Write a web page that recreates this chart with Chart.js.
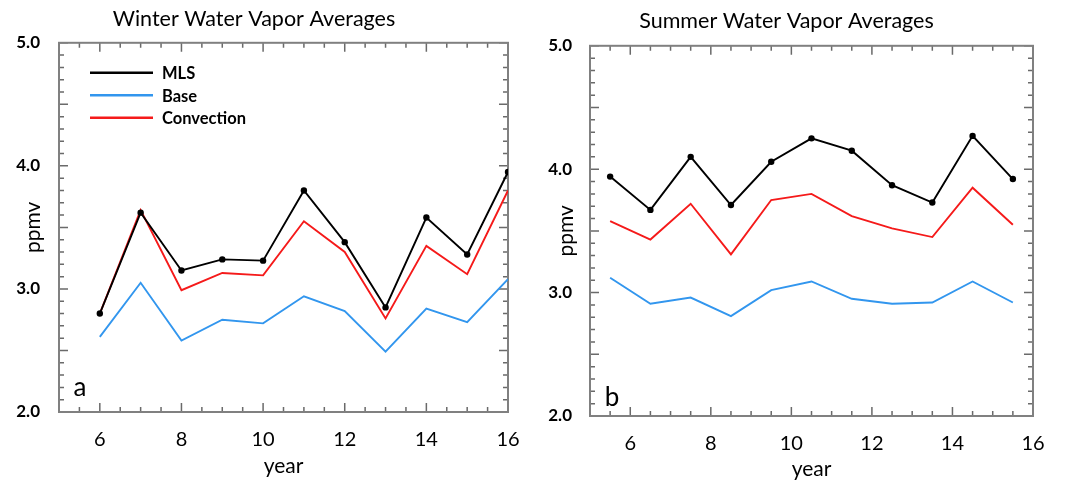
<!DOCTYPE html>
<html><head><meta charset="utf-8">
<script src="https://cdn.jsdelivr.net/npm/chart.js@4"></script>
<style>
body{margin:0;background:#fff;width:1083px;height:482px;overflow:hidden;position:relative}
.p{position:absolute;top:0;height:482px}
</style></head><body>
<div class="p" style="left:0;width:540px"><canvas id="c1"></canvas></div>
<div class="p" style="left:540px;width:543px"><canvas id="c2"></canvas></div>
<script>
// ---- data ----
const winterYears = [6,7,8,9,10,11,12,13,14,15,16];
const winterMLS = [2.80,3.62,3.15,3.24,3.23,3.80,3.38,2.85,3.58,3.28,3.95];
const winterBase = [2.61,3.05,2.58,2.75,2.72,2.94,2.82,2.49,2.84,2.73,3.08];
const winterConvection = [2.80,3.64,2.99,3.13,3.11,3.55,3.30,2.76,3.35,3.12,3.80];

const summerYears = [5.5,6.5,7.5,8.5,9.5,10.5,11.5,12.5,13.5,14.5,15.5];
const summerMLS = [3.94,3.67,4.10,3.71,4.06,4.25,4.15,3.87,3.73,4.27,3.92];
const summerBase = [3.12,2.91,2.96,2.81,3.02,3.09,2.95,2.91,2.92,3.09,2.92];
const summerConvection = [3.58,3.43,3.72,3.31,3.75,3.80,3.62,3.52,3.45,3.85,3.55];

const seriesNames = ['MLS','Base','Convection'];
const xTickValues = [6,8,10,12,14,16];
const yTickValues = [2,3,4,5];
const yTickLabels = ['2.0','3.0','4.0','5.0'];

const COLORS = {MLS:'#000000', Base:'#3296ee', Convection:'#f51a1a'};
const FONT = 'Lato, "Open Sans", sans-serif';

function pts(xs, ys){ return xs.map((x,i)=>({x:x, y:ys[i]})); }

const framePlugin = {
  id:'frame',
  beforeDatasetsDraw(chart){
    const {ctx, chartArea:a, scales} = chart;
    const xs = scales.x, ys = scales.y;
    ctx.save();
    ctx.strokeStyle = '#6a6a6a';
    ctx.lineWidth = 1.5;
    for (let k = 20; k <= 50; k++) {
      const v = k/10;
      const y = ys.getPixelForValue(v);
      const len = (k % 5 === 0) ? 9 : 5;
      ctx.beginPath();
      ctx.moveTo(a.left, y); ctx.lineTo(a.left+len, y);
      ctx.moveTo(a.right, y); ctx.lineTo(a.right-len, y);
      ctx.stroke();
    }
    for (let k = 10; k <= 32; k++) {
      const v = k/2;
      const x = xs.getPixelForValue(v);
      const len = (k % 4 === 0) ? 9 : 5;
      ctx.beginPath();
      ctx.moveTo(x, a.bottom); ctx.lineTo(x, a.bottom-len);
      ctx.moveTo(x, a.top); ctx.lineTo(x, a.top+len);
      ctx.stroke();
    }
    ctx.strokeStyle = '#808080';
    ctx.lineWidth = 2;
    ctx.strokeRect(a.left, a.top, a.right-a.left, a.bottom-a.top);
    ctx.restore();
  },
  afterDraw(chart, args, opts){
    const {ctx, chartArea:a} = chart;
    ctx.save();
    ctx.fillStyle = '#000';
    ctx.font = '26px ' + FONT;
    ctx.textAlign = 'center';
    ctx.textBaseline = 'middle';
    ctx.fillText(opts.letter, a.left + opts.letterDx, a.bottom - opts.letterDy);
    if (opts.legend) {
      ctx.textAlign = 'left';
      ctx.font = 'bold 16.5px ' + FONT;
      chart.data.datasets.forEach((ds, i) => {
        const y = a.top + 30 + i*22.5;
        ctx.strokeStyle = ds.borderColor;
        ctx.lineWidth = 2.5;
        ctx.beginPath();
        ctx.moveTo(a.left + 31, y); ctx.lineTo(a.left + 94, y);
        ctx.stroke();
        ctx.fillStyle = '#000';
        ctx.fillText(ds.label, a.left + 103, y + 1);
      });
    }
    ctx.restore();
  }
};

function makeChart(id, o){
  const ds = [
    {label:seriesNames[0], data:pts(o.years,o.mls), borderColor:COLORS.MLS, backgroundColor:COLORS.MLS, borderWidth:1.9, pointRadius:3.2, pointBackgroundColor:'#000', pointBorderWidth:0, order:0},
    {label:seriesNames[1], data:pts(o.years,o.base), borderColor:COLORS.Base, borderWidth:1.9, pointRadius:0, order:2},
    {label:seriesNames[2], data:pts(o.years,o.conv), borderColor:COLORS.Convection, borderWidth:1.9, pointRadius:0, order:1}
  ];
  return new Chart(document.getElementById(id), {
    type:'line',
    data:{datasets:ds},
    plugins:[framePlugin],
    options:{
      responsive:true, maintainAspectRatio:false, animation:false, devicePixelRatio:1,
      layout:{padding:{left:0, right:o.padRight, top:0, bottom:0}},
      plugins:{
        legend:{display:false}, tooltip:{enabled:false},
        title:{display:true, text:o.title, color:'#000', font:{family:FONT, size:21.5, weight:'normal'}, padding:{top:o.titleTop, bottom:o.titleBottom}},
        frame:{letter:o.letter, letterDx:o.letterDx, letterDy:o.letterDy, legend:o.legend}
      },
      scales:{
        x:{type:'linear', min:5, max:16,
          afterBuildTicks(s){ s.ticks = xTickValues.map(v=>({value:v})); },
          afterFit(s){ s.height = o.xAxisH; },
          grid:{display:false, drawTicks:false}, border:{display:false},
          ticks:{color:'#000', padding:o.xTickPad, font:{family:FONT, size:20}, maxRotation:0, autoSkip:false, callback:(v)=>String(v)},
          title:{display:true, text:'year', color:'#000', font:{family:FONT, size:21}, padding:{top:0, bottom:o.xTitleBottom}}
        },
        y:{type:'linear', min:2, max:5,
          afterBuildTicks(s){ s.ticks = yTickValues.map(v=>({value:v})); },
          afterFit(s){ s.width = o.yAxisW; },
          grid:{display:false, drawTicks:false}, border:{display:false},
          ticks:{color:'#000', padding:o.yTickPad, font:{family:FONT, size:17, weight:'bold'}, autoSkip:false, callback:(v)=>yTickLabels[yTickValues.indexOf(v)]},
          title:{display:true, text:'ppmv', color:'#000', font:{family:FONT, size:21}, padding:{top:o.yTitleTop, bottom:0}}
        }
      }
    }
  });
}

makeChart('c1', {years:winterYears, mls:winterMLS, base:winterBase, conv:winterConvection,
  title:'Winter Water Vapor Averages', titleTop:6, titleBottom:11, padRight:32, xAxisH:70, yAxisW:59,
  xTickPad:16, xTitleBottom:3, yTickPad:19, yTitleTop:21, letter:'a', letterDx:21, letterDy:24, legend:true});
makeChart('c2', {years:summerYears, mls:summerMLS, base:summerBase, conv:summerConvection,
  title:'Summer Water Vapor Averages', titleTop:8, titleBottom:12, padRight:50, xAxisH:66, yAxisW:50,
  xTickPad:16, xTitleBottom:0, yTickPad:18, yTitleTop:14, letter:'b', letterDx:22, letterDy:18, legend:false});
</script>
</body></html>
